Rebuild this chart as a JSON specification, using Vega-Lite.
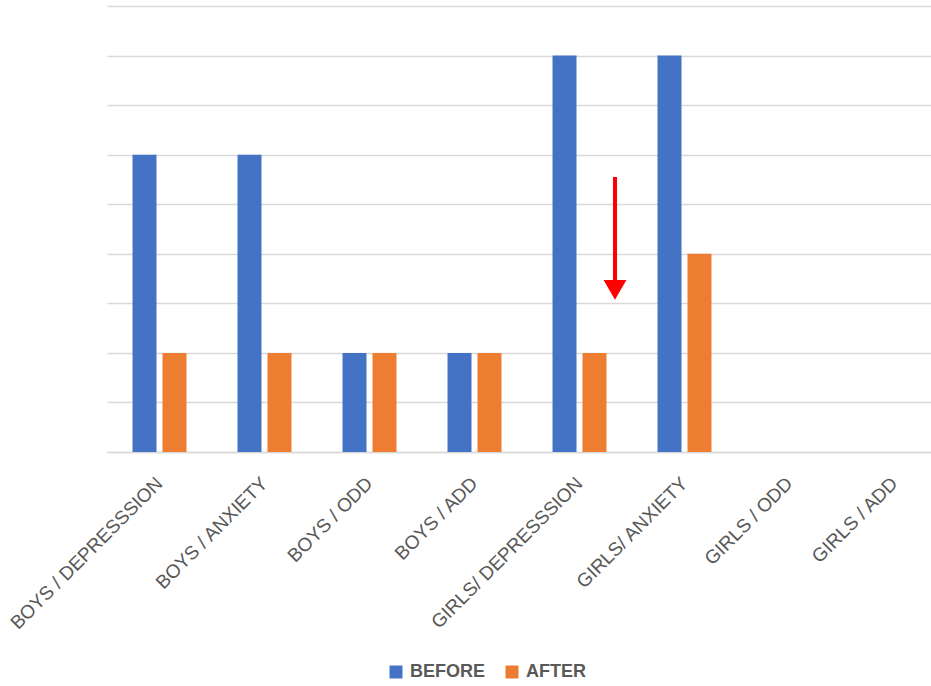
{
  "$schema": "https://vega.github.io/schema/vega-lite/v6.json",
  "autosize": {"type": "none"},
  "width": 840,
  "height": 446,
  "padding": {"left": 107, "top": 6, "right": 0, "bottom": 234},
  "background": "white",
  "config": {"view": {"stroke": null}, "font": "Liberation Sans"},
  "layer": [
    {
      "data": {
        "values": [
          {"cat": "BOYS / DEPRESSSION", "phase": "BEFORE", "v": 6},
          {"cat": "BOYS / DEPRESSSION", "phase": "AFTER", "v": 2},
          {"cat": "BOYS / ANXIETY", "phase": "BEFORE", "v": 6},
          {"cat": "BOYS / ANXIETY", "phase": "AFTER", "v": 2},
          {"cat": "BOYS / ODD", "phase": "BEFORE", "v": 2},
          {"cat": "BOYS / ODD", "phase": "AFTER", "v": 2},
          {"cat": "BOYS / ADD", "phase": "BEFORE", "v": 2},
          {"cat": "BOYS / ADD", "phase": "AFTER", "v": 2},
          {"cat": "GIRLS/ DEPRESSSION", "phase": "BEFORE", "v": 8},
          {"cat": "GIRLS/ DEPRESSSION", "phase": "AFTER", "v": 2},
          {"cat": "GIRLS/ ANXIETY", "phase": "BEFORE", "v": 8},
          {"cat": "GIRLS/ ANXIETY", "phase": "AFTER", "v": 4},
          {"cat": "GIRLS / ODD", "phase": "BEFORE", "v": 0},
          {"cat": "GIRLS / ODD", "phase": "AFTER", "v": 0},
          {"cat": "GIRLS / ADD", "phase": "BEFORE", "v": 0},
          {"cat": "GIRLS / ADD", "phase": "AFTER", "v": 0}
        ]
      },
      "mark": {"type": "bar"},
      "encoding": {
        "x": {
          "field": "cat", "type": "nominal", "sort": null, "title": null,
          "scale": {"paddingInner": 0.486, "paddingOuter": 0.243},
          "axis": {
            "labelAngle": -45, "labelAlign": "right", "labelBaseline": "middle",
            "labelFontSize": 19, "labelColor": "#595959", "labelPadding": 28,
            "ticks": false, "domainColor": "#d9d9d9", "domainWidth": 1.5,
            "labelLimit": 400
          }
        },
        "xOffset": {
          "field": "phase", "type": "nominal", "sort": ["BEFORE", "AFTER"],
          "scale": {"paddingInner": 0.2, "paddingOuter": 0}
        },
        "y": {
          "field": "v", "type": "quantitative", "title": null,
          "scale": {"domain": [0, 9], "nice": false},
          "axis": {
            "values": [0, 1, 2, 3, 4, 5, 6, 7, 8, 9], "labels": false, "ticks": false,
            "domain": false, "gridColor": "#d9d9d9", "gridWidth": 1.5
          }
        },
        "color": {
          "field": "phase", "type": "nominal", "sort": ["BEFORE", "AFTER"],
          "scale": {"domain": ["BEFORE", "AFTER"], "range": ["#4472C4", "#ED7D31"]},
          "legend": {
            "title": null, "orient": "none", "direction": "horizontal",
            "legendX": 280, "legendY": 657,
            "symbolType": "square", "symbolSize": 169, "symbolStrokeWidth": 0,
            "labelFontSize": 18, "labelFontWeight": "bold", "labelColor": "#595959",
            "columnPadding": 17, "labelOffset": 5
          }
        }
      }
    },
    {
      "data": {"values": [{"ax": 4.838, "y1": 5.55, "y2": 3.4}]},
      "mark": {"type": "rule", "color": "#FF0000", "strokeWidth": 4},
      "encoding": {
        "x": {"field": "ax", "type": "quantitative", "scale": {"domain": [0, 8], "nice": false}, "axis": null},
        "y": {"field": "y1", "type": "quantitative"},
        "y2": {"field": "y2"}
      }
    },
    {
      "data": {"values": [{"ax": 4.838, "yh": 3.27}]},
      "mark": {"type": "point", "shape": "triangle-down", "filled": true, "color": "#FF0000", "size": 520, "opacity": 1},
      "encoding": {
        "x": {"field": "ax", "type": "quantitative", "scale": {"domain": [0, 8], "nice": false}, "axis": null},
        "y": {"field": "yh", "type": "quantitative"}
      }
    }
  ],
  "resolve": {"scale": {"x": "independent"}, "axis": {"x": "independent"}}
}
